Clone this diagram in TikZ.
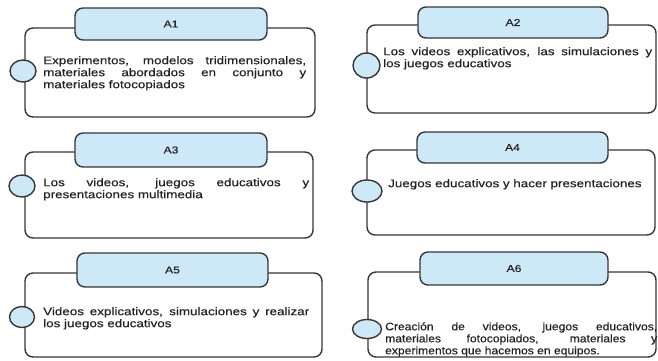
\documentclass[tikz,border=0pt]{standalone}
\usepackage{fontspec}
\setmainfont{Liberation Sans}
\newfontfamily\widesans[FakeStretch=1.22,FakeBold=0.35]{Liberation Sans}
\newfontfamily\midsans[FakeStretch=1.1,FakeBold=0.35]{Liberation Sans}
\usetikzlibrary{shapes.geometric,fit}
\definecolor{tabblue}{RGB}{205,232,247}
\definecolor{edge}{RGB}{55,55,55}
\definecolor{ink}{RGB}{35,35,35}
\tikzset{
  panelbox/.style={draw=edge, line width=1.4pt, rounded corners=8pt, fill=white, inner sep=0pt},
  tabbox/.style={draw=edge, line width=1.4pt, rounded corners=8pt, fill=tabblue, inner sep=0pt},
  tablabel/.style={inner sep=0pt, text=ink, font=\widesans\fontsize{10}{12}\selectfont},
  knob/.style={ellipse, draw=edge, line width=1.4pt, fill=tabblue, inner sep=0pt},
  body/.style={anchor=north west, inner sep=0pt, align=justify, text=ink},
  widebody/.style={body, font=\widesans\fontsize{11}{12}\selectfont},
  midbody/.style={body, font=\midsans\fontsize{11}{12}\selectfont}
}
\begin{document}
\begin{tikzpicture}[x=1pt, y=-1pt]
  \fill[white] (0,0) rectangle (658,360);
  \useasboundingbox (0,0) rectangle (658,360);

  % ---- A1 ----
  \node[panelbox, fit={(25,28) (315,117)}] (box1) {};
  \node[tabbox, fit={(75,8) (267,40)}] (tab1) {};
  \node[tablabel] (lab1) at (tab1.center) {A1};
  \node[knob, minimum width=26pt, minimum height=22pt] (knob1) at (23,71) {};
  \node[widebody, text width=263pt] (txt1) at (43,56)
    {Experimentos, modelos tridimensionales,\linebreak materiales abordados en conjunto y\linebreak materiales fotocopiados};

  % ---- A2 ----
  \node[panelbox, fit={(367,25) (656,113)}] (box2) {};
  \node[tabbox, fit={(418,7) (608,38)}] (tab2) {};
  \node[tablabel] (lab2) at (tab2.center) {A2};
  \node[knob, minimum width=27pt, minimum height=25pt] (knob2) at (366.5,65.5) {};
  \node[widebody, text width=269pt] (txt2) at (383,47)
    {Los videos explicativos, las simulaciones y\linebreak los juegos educativos};

  % ---- A3 ----
  \node[panelbox, fit={(25,152) (313,238)}] (box3) {};
  \node[tabbox, fit={(75,133) (267,167)}] (tab3) {};
  \node[tablabel] (lab3) at (tab3.center) {A3};
  \node[knob, minimum width=26pt, minimum height=22pt] (knob3) at (22,186) {};
  \node[widebody, text width=266pt] (txt3) at (43,178)
    {Los videos, juegos educativos y\linebreak presentaciones multimedia};

  % ---- A4 ----
  \node[panelbox, fit={(367,150) (655,235)}] (box4) {};
  \node[tabbox, fit={(417,132) (608,163)}] (tab4) {};
  \node[tablabel] (lab4) at (tab4.center) {A4};
  \node[knob, minimum width=30pt, minimum height=22pt] (knob4) at (367,191) {};
  \node[widebody, align=left, text width=262pt] (txt4) at (388,179)
    {Juegos educativos y hacer presentaciones};

  % ---- A5 ----
  \node[panelbox, fit={(25,273) (322,357)}] (box5) {};
  \node[tabbox, fit={(77,253) (268,287)}] (tab5) {};
  \node[tablabel] (lab5) at (tab5.center) {A5};
  \node[knob, minimum width=25pt, minimum height=21pt] (knob5) at (22,317) {};
  \node[widebody, text width=266pt] (txt5) at (43,307)
    {Videos explicativos, simulaciones y realizar\linebreak los juegos educativos};

  % ---- A6 ----
  \node[panelbox, fit={(368,272) (656,357)}] (box6) {};
  \node[tabbox, fit={(420,252) (608,285)}] (tab6) {};
  \node[tablabel] (lab6) at (tab6.center) {A6};
  \node[knob, minimum width=29pt, minimum height=19pt] (knob6) at (367,329) {};
  \node[midbody, text width=272pt] (txt6) at (385,322)
    {Creación de videos, juegos educativos,\linebreak materiales fotocopiados, materiales y\linebreak experimentos que hacemos en equipos.};
\end{tikzpicture}
\end{document}
